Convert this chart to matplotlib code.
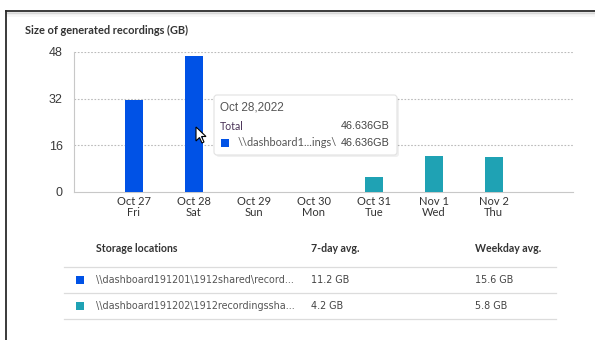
import matplotlib.pyplot as plt
from matplotlib.patches import FancyBboxPatch, Rectangle, Polygon

# daily totals per storage location (GB)
days = ["Oct 27\nFri", "Oct 28\nSat", "Oct 29\nSun", "Oct 30\nMon",
        "Oct 31\nTue", "Nov 1\nWed", "Nov 2\nThu"]
loc1_gb = [31.4, 46.636, 0, 0, 0, 0, 0]
loc2_gb = [0, 0, 0, 0, 5.1, 12.2, 12.0]
y_ticks = [0, 16, 32, 48]

locations = ["\\\\dashboard191201\\1912shared\\record...",
             "\\\\dashboard191202\\1912recordingssha..."]
avg_7day = ["11.2 GB", "4.2 GB"]
avg_weekday = ["15.6 GB", "5.8 GB"]

BLUE = "#0052e6"
TEAL = "#1fa2b4"
TEXT = "#333333"
W, H = 595, 340

fig = plt.figure(figsize=(W / 100, H / 100), dpi=100)
fig.patch.set_facecolor("white")

# bar chart
ax = fig.add_axes([74 / W, 1 - 192 / H, (573 - 74) / W, 140 / H])
x = range(len(days))
ax.bar(x, loc1_gb, width=0.3, color=BLUE, zorder=3)
ax.bar(x, loc2_gb, width=0.3, color=TEAL, zorder=3)
ax.set_xlim(-1, 7.32)
ax.set_ylim(0, 48)
ax.set_yticks(y_ticks)
ax.set_yticklabels([str(t) for t in y_ticks], fontsize=9,
                   family="Liberation Sans", color="#3a3a3a")
ax.set_xticks(list(x))
ax.set_xticklabels(days, fontsize=8, family="Lato", color=TEXT,
                   linespacing=1.0)
ax.tick_params(length=0, axis="y", pad=8)
ax.tick_params(length=0, axis="x", pad=3)
for t in y_ticks[1:]:
    ax.axhline(t, color="#bbbbbb", lw=0.8, ls=(0, (1.5, 1.5)), zorder=1)
for s in ["top", "right"]:
    ax.spines[s].set_visible(False)
ax.spines["left"].set_color("#c8c8c8")
ax.spines["bottom"].set_color("#c8c8c8")

# overlay in pixel coordinates for panel, tooltip and table
ov = fig.add_axes([0, 0, 1, 1], zorder=5)
ov.set_xlim(0, W)
ov.set_ylim(H, 0)
ov.axis("off")
ov.patch.set_alpha(0)

# panel frame with a soft shadow under the top edge
for i, a in enumerate([0.10, 0.06, 0.03]):
    ov.plot([7, W], [12.5 + i * 1.5] * 2, color="black", alpha=a, lw=1.5)
ov.plot([6, W], [11, 11], color="#2b2b2b", lw=1.3)
ov.plot([6, 6], [11, H], color="#2b2b2b", lw=1.3)

ov.text(25, 30, "Size of generated recordings (GB)", fontsize=7.9,
        fontweight="bold", family="Lato", color=TEXT, va="center")

# tooltip
shadow = FancyBboxPatch((216, 97), 183, 60, boxstyle="round,pad=0,rounding_size=3",
                        fc="black", alpha=0.06, ec="none")
ov.add_patch(shadow)
tip = FancyBboxPatch((214, 95), 183, 60, boxstyle="round,pad=0,rounding_size=3",
                     fc="white", ec="#e2e2e2", lw=0.8)
ov.add_patch(tip)
ov.text(220, 108, "Oct 28,2022", fontsize=8.5, family="Liberation Sans",
        color="#555555", va="center")
ov.text(220, 126, "Total", fontsize=7.6, family="Lato", color="#4a3358",
        va="center")
ov.text(390, 126, f"{loc1_gb[1] + loc2_gb[1]:.3f}GB", fontsize=7.8,
        family="Liberation Sans", color="#444444", va="center", ha="right")
ov.add_patch(Rectangle((221, 139), 8, 8, fc=BLUE, ec="none"))
ov.text(238, 143, "\\\\dashboard1...ings\\", fontsize=7.9, family="Lato",
        color="#555555", va="center")
ov.text(390, 143, f"{loc1_gb[1]:.3f}GB", fontsize=7.8,
        family="Liberation Sans", color="#444444", va="center", ha="right")

# mouse pointer
arrow = [(0, 0), (0, 14), (3.5, 10.5), (6, 16), (8, 15), (5.5, 9.5), (10, 9.5)]
ov.add_patch(Polygon([(196 + px, 127 + py) for px, py in arrow], closed=True,
                     fc="white", ec="black", lw=0.8, zorder=6))

# summary table
hdr_y = 249
ov.text(96, hdr_y, "Storage locations", fontsize=7.6, fontweight="bold",
        family="Lato", color=TEXT, va="center")
ov.text(311, hdr_y, "7-day avg.", fontsize=7.6, fontweight="bold",
        family="Lato", color=TEXT, va="center")
ov.text(475, hdr_y, "Weekday avg.", fontsize=7.6, fontweight="bold",
        family="Lato", color=TEXT, va="center")
ov.plot([64, 556], [267, 267], color="#dcdcdc", lw=0.9)
for i, (name, a7, aw, c) in enumerate(zip(locations, avg_7day, avg_weekday,
                                           [BLUE, TEAL])):
    ry = 280 + i * 26
    ov.add_patch(Rectangle((76, ry - 4.5), 8, 8, fc=c, ec="none"))
    ov.text(96, ry, name, fontsize=6.9, family="DejaVu Sans",
            color="#555555", va="center")
    ov.text(311, ry, a7, fontsize=6.9, family="DejaVu Sans",
            color="#444444", va="center")
    ov.text(475, ry, aw, fontsize=6.9, family="DejaVu Sans",
            color="#444444", va="center")
    ov.plot([64, 556], [ry + 13, ry + 13], color="#dcdcdc", lw=0.9)

fig.savefig("out.png", dpi=100)
